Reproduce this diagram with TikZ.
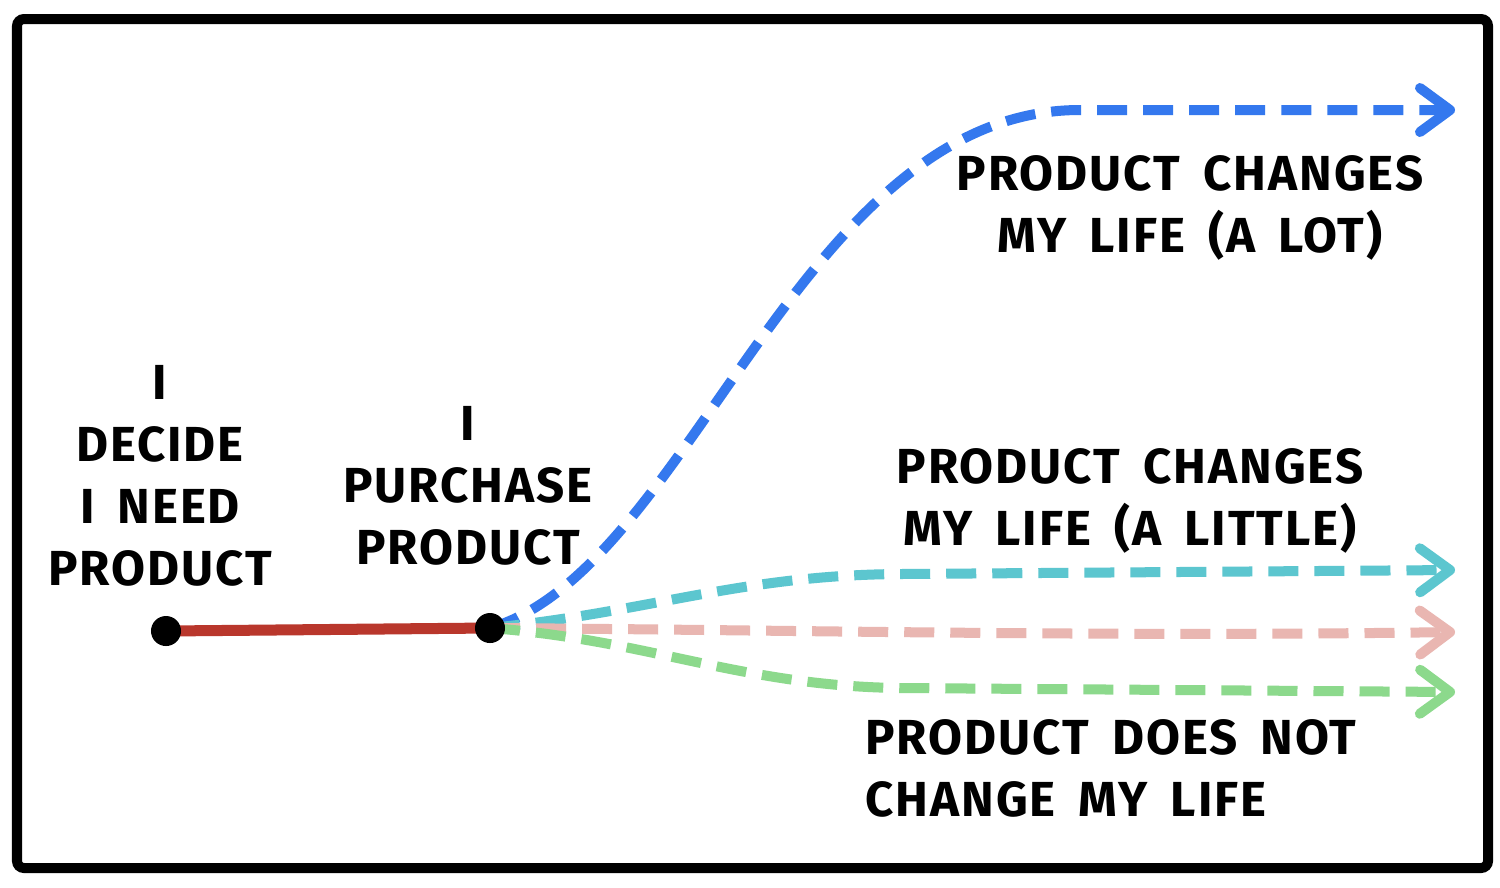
\documentclass[tikz,border=0pt]{standalone}
\usepackage{fontspec}
\setmainfont{Fira Sans}
\newfontfamily\handfont{Fira Sans}[LetterSpace=4, WordSpace=1.7]
\usetikzlibrary{arrows.meta}
\definecolor{lotblue}{HTML}{3478EE}
\definecolor{littlecyan}{HTML}{5CC6CF}
\definecolor{samepink}{HTML}{E9B6B1}
\definecolor{nogreen}{HTML}{8CD98C}
\definecolor{pathred}{HTML}{B9372C}
\tikzset{
  label text/.style={align=center, font=\handfont\bfseries\fontsize{14}{17.6}\selectfont},
  outcome/.style={line width=0.1cm, dash pattern=on 0.3cm off 0.16cm,
    -{Straight Barb[round, length=0.3cm, width=0.44cm, line width=0.1cm]}},
  dot/.style={circle, fill=black, inner sep=0pt, minimum size=0.3cm}
}
\begin{document}
\begin{tikzpicture}[x=0.01cm, y=-0.01cm]
\useasboundingbox (0,0) rectangle (1500,887);
\fill[white] (0,0) rectangle (1500,887);
\draw[line width=0.1cm, rounded corners=2pt] (17,19) rectangle (1488,868);
% steps
\coordinate (p0) at (166,631);
\coordinate (p1) at (490,628);
\coordinate (e0) at (1455,110);
\coordinate (e1) at (1455,570);
\coordinate (e2) at (1455,632);
\coordinate (e3) at (1455,692);
\node[label text] (v0) at (160,476) {I\\DECIDE\\I NEED\\PRODUCT};
\node[label text] (v1) at (468,486) {I\\PURCHASE\\PRODUCT};
\node[label text] (v2) at (1190,208) {PRODUCT CHANGES\\MY LIFE (A LOT)};
\node[label text] (v3) at (1130,501) {PRODUCT CHANGES\\MY LIFE (A LITTLE)};
\node[label text, align=left, anchor=west] (v4) at (853,768) {PRODUCT DOES NOT\\CHANGE MY LIFE};
% outcomes
\draw[outcome, lotblue] (p1) .. controls (690,570) and (800,110) .. (1080,110) -- (e0);
\draw[outcome, littlecyan] (p1) .. controls (650,612) and (740,575) .. (900,574) -- (e1);
\draw[outcome, samepink] (p1) .. controls (800,630) and (1100,637) .. (e2);
\draw[outcome, nogreen] (p1) .. controls (650,640) and (740,686) .. (900,688) -- (e3);
\draw[line width=0.11cm, pathred] (p0) -- (p1);
\node[dot] (d0) at (p0) {};
\node[dot] (d1) at (p1) {};
\end{tikzpicture}
\end{document}
